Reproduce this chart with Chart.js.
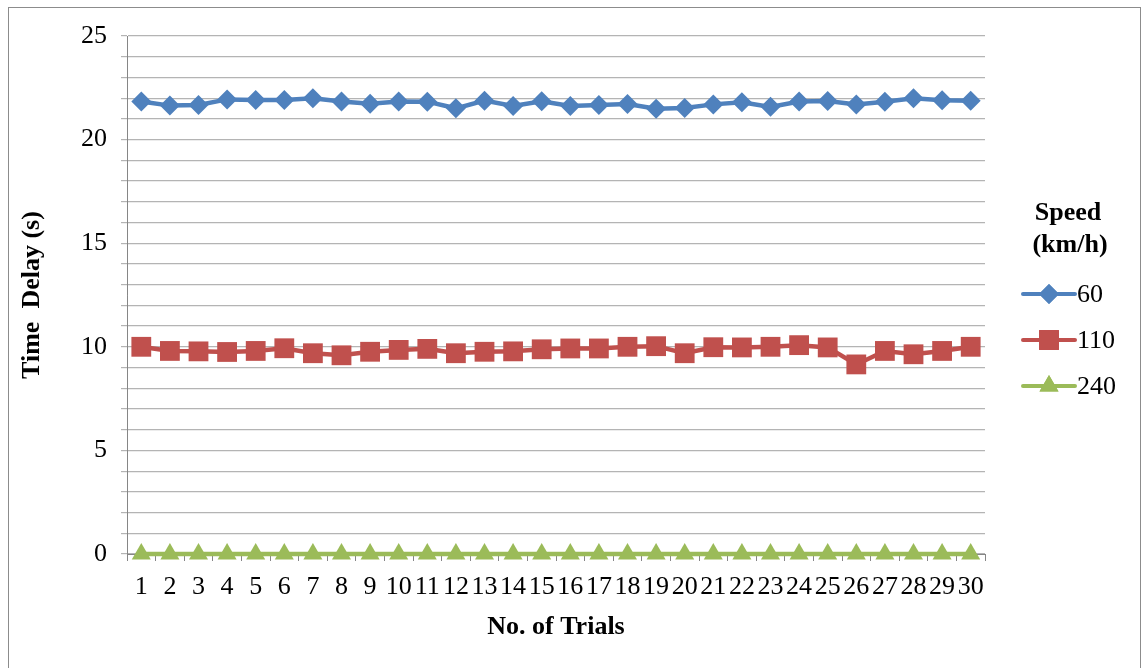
<!DOCTYPE html>
<html>
<head>
<meta charset="utf-8">
<script src="https://cdn.jsdelivr.net/npm/chart.js@4"></script>
<style>
  body { margin: 0; background: #fff; }
  #wrap { position: relative; width: 1145px; height: 668px; overflow: hidden; }
  #frame { position: absolute; left: 8px; top: 7px; width: 1131px; height: 700px; border: 1px solid #8c8c8c; }
  canvas { position: absolute; left: 0; top: 0; }
</style>
</head>
<body>
<div id="wrap">
  <div id="frame"></div>
  <canvas id="delayChart" width="1145" height="668"></canvas>
</div>
<script>
const trials = Array.from({ length: 30 }, (_, i) => String(i + 1));
const speed60 = [21.84, 21.64, 21.67, 21.94, 21.91, 21.91, 22.0, 21.84, 21.73, 21.84,
  21.83, 21.51, 21.88, 21.62, 21.85, 21.62, 21.67, 21.72, 21.49, 21.53,
  21.7, 21.8, 21.58, 21.84, 21.86, 21.7, 21.83, 22.0, 21.9, 21.88];
const speed110 = [10.0, 9.8, 9.78, 9.75, 9.8, 9.93, 9.69, 9.59, 9.76, 9.85,
  9.9, 9.69, 9.76, 9.78, 9.88, 9.92, 9.92, 10.0, 10.03, 9.69,
  9.98, 9.97, 10.0, 10.08, 9.97, 9.15, 9.8, 9.64, 9.8, 10.0];
const speed240 = Array(30).fill(0);
const seriesNames = ['60', '110', '240'];
const yTicks = [0, 5, 10, 15, 20, 25];

const serif = '"Liberation Serif", "Times New Roman", serif';

// legend drawn Excel style: line with marker, title on top
const sideLegend = {
  id: 'sideLegend',
  afterDraw(chart) {
    const ctx = chart.ctx;
    ctx.save();
    ctx.fillStyle = '#000';
    ctx.font = 'bold 26px ' + serif;
    ctx.textAlign = 'center';
    ctx.textBaseline = 'middle';
    ctx.fillText('Speed', 1068, 213);
    ctx.fillText('(km/h)', 1070, 245);
    const rows = [294, 340, 386];
    chart.data.datasets.forEach((ds, i) => {
      const y = rows[i];
      ctx.strokeStyle = ds.borderColor;
      ctx.lineWidth = 4;
      ctx.lineCap = 'round';
      ctx.beginPath();
      ctx.moveTo(1023, y);
      ctx.lineTo(1075, y);
      ctx.stroke();
      ctx.fillStyle = ds.pointBackgroundColor;
      Chart.helpers.drawPoint(ctx, {
        pointStyle: ds.pointStyle,
        radius: ds.pointRadius,
        borderWidth: 0
      }, 1049, y);
      ctx.fill();
      ctx.fillStyle = '#000';
      ctx.font = '26px ' + serif;
      ctx.textAlign = 'left';
      ctx.fillText(ds.label, 1077, y + 1);
    });
    ctx.restore();
  }
};

const makeSet = (label, data, color, style, r) => ({
  label,
  data,
  borderColor: color,
  backgroundColor: color,
  pointBackgroundColor: color,
  pointBorderColor: color,
  pointBorderWidth: 0,
  borderWidth: 4.5,
  pointStyle: style,
  pointRadius: r,
  pointHoverRadius: r,
  clip: false,
  tension: 0
});

new Chart(document.getElementById('delayChart').getContext('2d'), {
  type: 'line',
  data: {
    labels: trials,
    datasets: [
      makeSet(seriesNames[0], speed60, '#4F81BD', 'rectRot', 10),
      makeSet(seriesNames[1], speed110, '#C0504D', 'rect', 14),
      makeSet(seriesNames[2], speed240, '#9BBB59', 'triangle', 11)
    ]
  },
  options: {
    responsive: false,
    animation: false,
    layout: { padding: { left: 0, right: 160, top: 36, bottom: 21 } },
    plugins: {
      legend: { display: false },
      tooltip: { enabled: false }
    },
    scales: {
      x: {
        offset: true,
        grid: {
          offset: true,
          drawOnChartArea: false,
          drawTicks: true,
          tickLength: 7,
          color: '#868686'
        },
        border: { color: '#868686', width: 1 },
        ticks: {
          autoSkip: false,
          maxRotation: 0,
          color: '#000',
          padding: 11,
          font: { family: serif, size: 26 }
        },
        title: {
          display: true,
          text: 'No. of Trials',
          color: '#000',
          padding: { top: 4 },
          font: { family: serif, size: 26, weight: 'bold' }
        },
        afterFit(scale) { scale.height = 93; }
      },
      y: {
        min: 0,
        max: 25,
        grid: { color: '#b4b4b4', tickLength: 6, lineWidth: 1.2 },
        border: { color: '#868686', width: 1 },
        ticks: {
          stepSize: 1,
          maxTicksLimit: 30,
          autoSkip: false,
          color: '#000',
          padding: 14,
          font: { family: serif, size: 26 },
          callback: v => (yTicks.includes(v) ? v : '')
        },
        title: {
          display: true,
          text: 'Time  Delay (s)',
          color: '#000',
          padding: { top: 17, bottom: 0 },
          font: { family: serif, size: 26, weight: 'bold' }
        },
        afterFit(scale) { scale.width = 127; }
      }
    }
  },
  plugins: [sideLegend]
});
</script>
</body>
</html>
